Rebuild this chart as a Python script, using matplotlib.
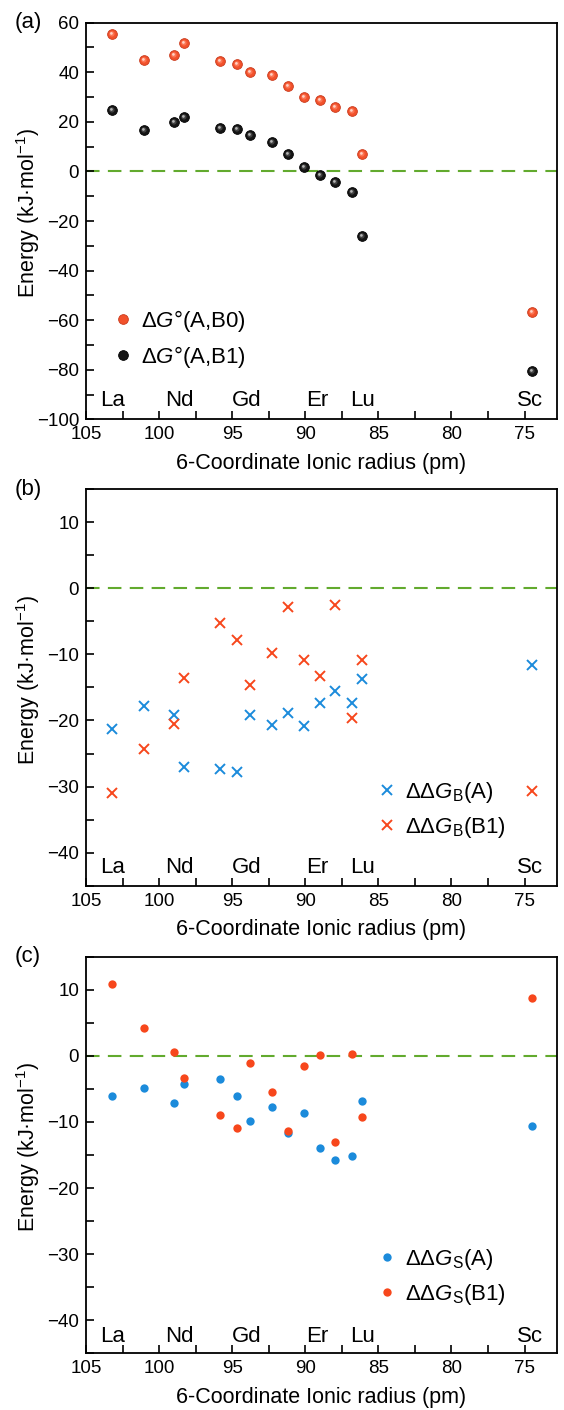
import matplotlib
matplotlib.use("Agg")
import matplotlib.pyplot as plt
from matplotlib.ticker import MultipleLocator
from matplotlib.path import Path

plt.rcParams['font.family'] = ['Liberation Sans', 'DejaVu Sans']
plt.rcParams['mathtext.fontset'] = 'custom'
plt.rcParams['mathtext.rm'] = 'Liberation Sans'
plt.rcParams['mathtext.it'] = 'Liberation Sans:italic'
plt.rcParams['mathtext.bf'] = 'Liberation Sans:bold'

# ---- data ----
elements = ["La", "Ce", "Pr", "Nd", "Sm", "Eu", "Gd", "Tb", "Dy", "Ho", "Er", "Tm", "Yb", "Lu", "Sc"]
radius = [103.2, 101.0, 99.0, 98.3, 95.8, 94.7, 93.8, 92.3, 91.2, 90.1, 89.0, 88.0, 86.8, 86.1, 74.5]

dG_AB0 = [55.4, 45.1, 47.1, 51.7, 44.7, 43.2, 40.1, 38.7, 34.4, 30.0, 28.8, 26.1, 24.2, 7.1, -56.8]
dG_AB1 = [24.6, 16.8, 20.0, 21.9, 17.6, 17.1, 14.8, 12.0, 7.0, 1.7, -1.5, -4.2, -8.1, -26.0, -80.5]

ddGB_A = [-21.3, -17.8, -19.2, -27.1, -27.3, -27.8, -19.1, -20.7, -18.8, -20.9, -17.4, -15.6, -17.3, -13.7, -11.6]
ddGB_B1 = [-31.0, -24.3, -20.6, -13.6, -5.3, -7.9, -14.7, -9.8, -2.9, -10.8, -13.3, -2.6, -19.7, -10.9, -30.6]

ddGS_A = [-6.0, -4.8, -7.2, -4.3, -3.5, -6.0, -9.9, -7.7, -11.6, -8.7, -13.9, -15.7, -15.2, -6.8, -10.6]
ddGS_B1 = [10.8, 4.2, 0.6, -3.3, -8.9, -10.9, -1.1, -5.4, -11.3, -1.5, 0.1, -13.0, 0.3, -9.3, 8.8]

label_elements = ["La", "Nd", "Gd", "Er", "Lu", "Sc"]
label_x = [103.2, 98.6, 94.0, 89.2, 86.1, 74.6]

xticks = [105, 100, 95, 90, 85, 80, 75]

# ---- style ----
RED_BALL = '#F2512B'
RED_BALL_EDGE = '#C9391B'
RED_MID = '#FF8566'
RED_HI = '#FFD2C4'
BLACK_BALL = '#151515'
BLACK_MID = '#555555'
BLACK_HI = '#B5B5B5'
BLUE = '#1B8BDB'
RED = '#F7471C'
GREEN = '#62AA2E'


def highlight_marker(cx, cy, r):
    """Small offset circle inside a unit box, for a sphere-like highlight."""
    circ = Path.circle((cx, cy), r)
    box = Path([(1, 1), (-1, -1)], [Path.MOVETO, Path.MOVETO])
    return Path.make_compound_path(circ, box)


HI_MID = highlight_marker(-0.12, 0.12, 0.55)
HI_TOP = highlight_marker(-0.22, 0.22, 0.28)

fig = plt.figure(figsize=(5.64, 14.10), dpi=100)
L, W, H = 86/564, (556.7-86)/564, 396.6/1410
ax_a = fig.add_axes([L, 1-419.3/1410, W, H])
ax_b = fig.add_axes([L, 1-885.7/1410, W, H])
ax_c = fig.add_axes([L, 1-1353.3/1410, W, H])

TFS = 13.5   # tick labels
LFS = 15.5   # axis labels
EFS = 16     # element labels / legend


def style(ax, ylim, ymaj, ymin, lab_y):
    ax.set_xlim(105, 72.8)
    ax.set_ylim(*ylim)
    ax.set_xticks(xticks)
    ax.xaxis.set_minor_locator(MultipleLocator(2.5))
    ax.yaxis.set_major_locator(MultipleLocator(ymaj))
    ax.yaxis.set_minor_locator(MultipleLocator(ymin))
    ax.tick_params(which='both', direction='in', width=1.2, labelsize=TFS, top=False, right=False)
    ax.tick_params(which='major', length=5.5, pad=5)
    ax.tick_params(which='minor', length=5.5)
    for s in ax.spines.values():
        s.set_linewidth(1.3)
    ax.axhline(0, color=GREEN, lw=1.5, dashes=(6.5, 4), zorder=1)
    ax.set_xlabel('6-Coordinate Ionic radius (pm)', fontsize=LFS, labelpad=7)
    ax.set_ylabel('Energy (kJ·mol$^{-1}$)', fontsize=LFS)
    ax.yaxis.set_label_coords(-0.094, 0.52)
    for el, xx in zip(label_elements, label_x):
        ax.text(xx, lab_y, el, ha='center', va='center', fontsize=EFS)


leg_kw = dict(frameon=False, fontsize=EFS, handlelength=1.0, handletextpad=0.3,
              labelspacing=0.45, borderpad=0, borderaxespad=0, loc='center left')


def balls(ax, y, body, edge, mid, hi, label):
    ax.plot(radius, y, 'o', ms=7, mfc=body, mec=edge, mew=0.6, ls='none', zorder=3, label=label)
    ax.plot(radius, y, ls='none', marker=HI_MID, ms=7, mfc=mid, mec='none', alpha=0.7, zorder=4)
    ax.plot(radius, y, ls='none', marker=HI_TOP, ms=7, mfc=hi, mec='none', zorder=5)


# panel a
style(ax_a, (-100, 60), 20, 10, -92.5)
balls(ax_a, dG_AB0, RED_BALL, RED_BALL_EDGE, RED_MID, RED_HI, r'Δ$\it{G}$°(A,B0)')
balls(ax_a, dG_AB1, BLACK_BALL, 'black', BLACK_MID, BLACK_HI, r'Δ$\it{G}$°(A,B1)')
ax_a.legend(bbox_to_anchor=(0.055, 0.203), **leg_kw)

# panel b
style(ax_b, (-45, 15), 10, 5, -42.3)
ax_b.plot(radius, ddGB_A, 'x', ms=7.5, mew=1.4, color=BLUE, ls='none', zorder=3,
          label=r'ΔΔ$\it{G}_{\rm B}$(A)')
ax_b.plot(radius, ddGB_B1, 'x', ms=7.5, mew=1.4, color=RED, ls='none', zorder=3,
          label=r'ΔΔ$\it{G}_{\rm B}$(B1)')
ax_b.legend(bbox_to_anchor=(0.616, 0.192), **leg_kw)

# panel c
style(ax_c, (-45, 15), 10, 5, -42.4)
ax_c.plot(radius, ddGS_A, 'o', ms=6, color=BLUE, mec='none', ls='none', zorder=3,
          label=r'ΔΔ$\it{G}_{\rm S}$(A)')
ax_c.plot(radius, ddGS_B1, 'o', ms=6, color=RED, mec='none', ls='none', zorder=3,
          label=r'ΔΔ$\it{G}_{\rm S}$(B1)')
ax_c.legend(bbox_to_anchor=(0.616, 0.193), **leg_kw)

for ax, lab in zip([ax_a, ax_b, ax_c], ['(a)', '(b)', '(c)']):
    pos = ax.get_position()
    fig.text(15/564, pos.y1, lab, fontsize=EFS, ha='left', va='center')

fig.savefig('out.png', dpi=100)
